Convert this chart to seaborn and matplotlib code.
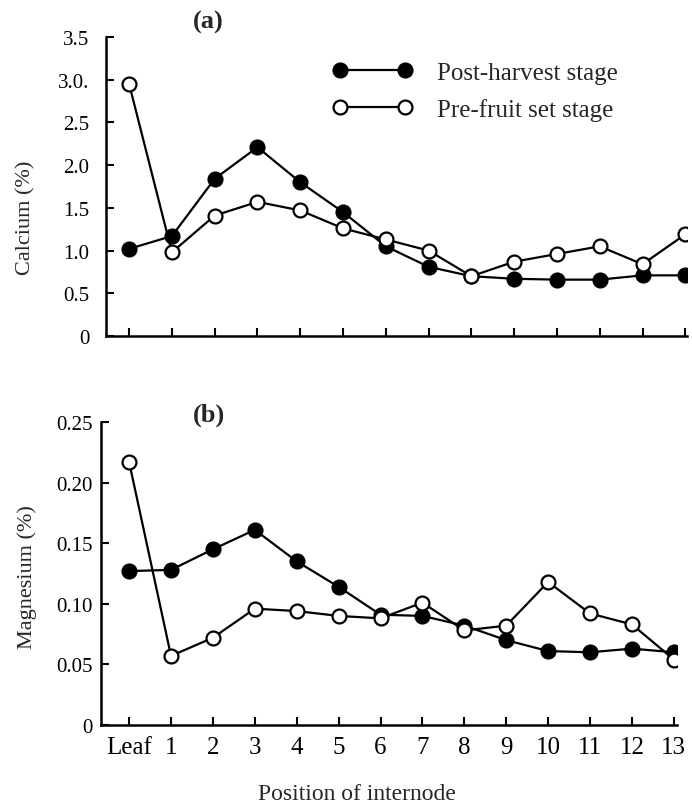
import numpy as np
import pandas as pd
import seaborn as sns
import matplotlib.pyplot as plt
from matplotlib.lines import Line2D

# internode positions
positions = np.arange(14)
pos_labels = ['Leaf', '1', '2', '3', '4', '5', '6', '7', '8', '9', '10', '11', '12', '13']

# (a) calcium, %
ca_post = [1.02, 1.17, 1.84, 2.21, 1.80, 1.45, 1.05, 0.81, 0.70, 0.67, 0.66, 0.66, 0.71, 0.71]
ca_pre = [2.95, 0.98, 1.41, 1.57, 1.47, 1.26, 1.13, 1.00, 0.70, 0.87, 0.96, 1.05, 0.84, 1.19]
ca_ticks = [0, 0.5, 1.0, 1.5, 2.0, 2.5, 3.0, 3.5]
ca_ticklabels = ['0', '0.5', '1.0', '1.5', '2.0', '2.5', '3.0.', '3.5']

# (b) magnesium, %
mg_post = [0.127, 0.128, 0.145, 0.161, 0.135, 0.114, 0.091, 0.090, 0.082, 0.070, 0.061, 0.060, 0.063, 0.060]
mg_pre = [0.217, 0.057, 0.072, 0.096, 0.094, 0.090, 0.088, 0.101, 0.078, 0.082, 0.118, 0.092, 0.083, 0.054]
mg_ticks = [0, 0.05, 0.10, 0.15, 0.20, 0.25]
mg_ticklabels = ['0', '0.05', '0.10', '0.15', '0.20', '0.25']

series_names = ['Post-harvest stage', 'Pre-fruit set stage']

sns.set_theme(style='ticks')
plt.rcParams['font.family'] = ['Liberation Serif', 'DejaVu Serif']

fig = plt.figure(figsize=(6.92, 8.03), dpi=100)
ax1 = fig.add_axes([0.1532, 0.5803, 0.8396, 0.3724])
ax2 = fig.add_axes([0.146, 0.0959, 0.832, 0.3773])

line_kw = dict(color='black', linewidth=1.6, marker='o', markersize=10,
               markeredgecolor='black', markeredgewidth=1.6)


def draw_panel(ax, post, pre, ticks, ticklabels, ylim, xlim, ylabel, show_xlabels, ypad):
    sns.lineplot(x=positions, y=post, ax=ax, markerfacecolor='black', zorder=3, **line_kw)
    sns.lineplot(x=positions, y=pre, ax=ax, markerfacecolor='white', zorder=4, **line_kw)
    ax.set_xlim(*xlim)
    ax.set_ylim(*ylim)
    ax.set_yticks(ticks)
    ax.set_yticklabels(ticklabels, fontsize=15)
    ax.set_xticks(positions)
    if show_xlabels:
        ax.set_xticklabels(pos_labels, fontsize=18)
    else:
        ax.set_xticklabels([])
    ax.tick_params(direction='in', length=6, width=1.5, colors='black')
    ax.tick_params(axis='y', pad=ypad)
    ax.tick_params(axis='x', pad=8)
    ax.set_ylabel(ylabel, fontsize=16)
    ax.set_xlabel('')
    for side in ['top', 'right']:
        ax.spines[side].set_visible(False)
    for side in ['left', 'bottom']:
        ax.spines[side].set_linewidth(1.8)
        ax.spines[side].set_color('black')


draw_panel(ax1, ca_post, ca_pre, ca_ticks, ca_ticklabels, (0, 3.5), (-0.54, 13.04),
           'Calcium (%)', False, 12)
draw_panel(ax2, mg_post, mg_pre, mg_ticks, mg_ticklabels, (0, 0.25), (-0.67, 13.07),
           'Magnesium (%)', True, 6)
ax1.yaxis.set_label_coords(-0.122, 0.398)
ax2.yaxis.set_label_coords(-0.112, 0.49)

ax2.set_xlabel('Position of internode', fontsize=17)
ax2.xaxis.set_label_coords(0.444, -0.19)

handles = [
    Line2D([0], [0], markerfacecolor='black', **line_kw),
    Line2D([0], [0], markerfacecolor='white', **line_kw),
]
ax1.legend(handles, series_names, loc='upper left', bbox_to_anchor=(0.4805, 0.9224),
           bbox_transform=fig.transFigure, frameon=False, numpoints=2,
           handlelength=3.2, handletextpad=0.98, labelspacing=0.55, borderpad=0,
           borderaxespad=0, fontsize=18)

fig.text(0.301, 0.972, '(a)', fontsize=19, fontweight='bold', ha='center', va='center')
fig.text(0.302, 0.483, '(b)', fontsize=19, fontweight='bold', ha='center', va='center')

fig.savefig('out.png', dpi=100)
